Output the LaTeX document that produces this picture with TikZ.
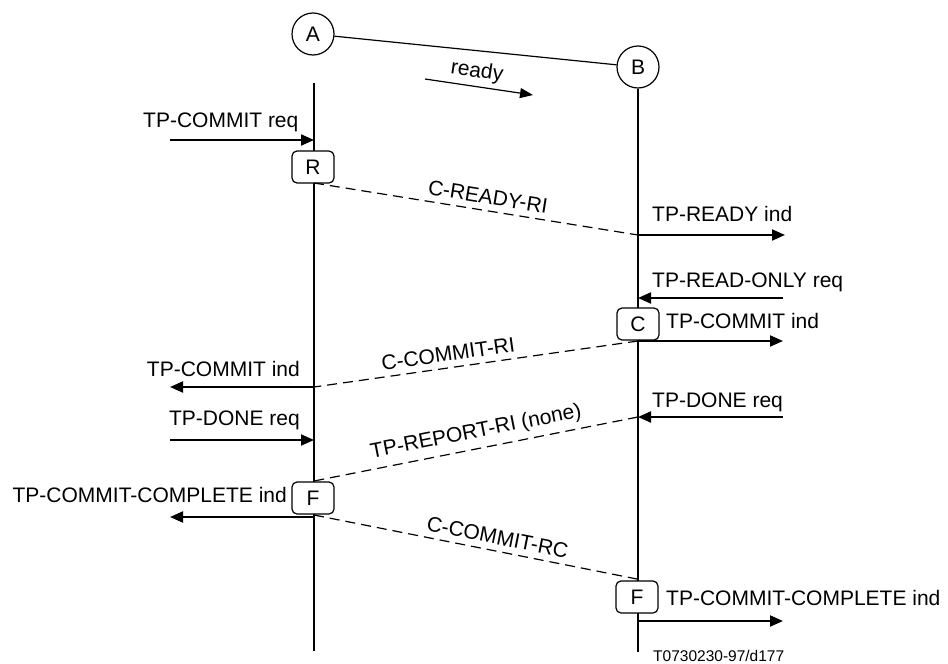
\documentclass[tikz,border=0pt]{standalone}
\usepackage{fontspec}
\setmainfont{Liberation Sans}
\usetikzlibrary{arrows.meta}
\begin{document}
\begin{tikzpicture}[x=1pt,y=-1pt,
  every node/.style={font=\fontsize{21}{25}\selectfont, inner sep=0pt},
  circ/.style={draw, line width=1.2pt, circle, minimum size=42pt},
  statebox/.style={draw, line width=1.2pt, rounded corners=5pt, minimum width=42pt, minimum height=32pt},
  life/.style={line width=2pt},
  prim/.style={line width=2pt, -{Triangle[length=13pt,width=11pt]}},
  pdu/.style={line width=1.2pt, dash pattern=on 10pt off 6pt},
  lbl/.style={font=\fontsize{21}{25}\selectfont}
]
\useasboundingbox (0,0) rectangle (948,664);

% entities
\node[circ] (A) at (313,34) {A};
\node[circ] (B) at (638,67) {B};
\draw[line width=1.2pt] (A) -- (B);

% ready arrow
\coordinate (r1) at (425,79);
\coordinate (r2) at (533,95);
\draw[line width=1.2pt, -{Triangle[length=13pt,width=10pt]}] (r1) -- (r2);
\node[rotate=-8.5] (readylbl) at (477,72) {ready};

% lifelines
\coordinate (Atop) at (314,83);
\coordinate (Abot) at (314,651);
\coordinate (Bbot) at (638,652);
\draw[life] (Atop) -- (Abot);
\draw[life] (B.south) -- (Bbot);

% state boxes
\node[statebox, fill=white] (R) at (313,167) {R};
\node[statebox, fill=white] (C) at (638,324) {C};
\node[statebox, fill=white] (F1) at (313,498) {F};
\node[statebox, fill=white] (F2) at (637,597) {F};

% event points
\coordinate (a1) at (170,140);  \coordinate (A1) at (314,140);
\coordinate (A2) at (314,183);  \coordinate (B2) at (638,235);
\coordinate (b2) at (785,235);
\coordinate (b3) at (783,298);  \coordinate (B3) at (638,298);
\coordinate (B4) at (638,341);  \coordinate (b4) at (783,341);
\coordinate (A4) at (314,387);  \coordinate (a4) at (170,387);
\coordinate (a5) at (170,440);  \coordinate (A5) at (314,440);
\coordinate (b6) at (783,417);  \coordinate (B6) at (638,417);
\coordinate (A6) at (314,481);
\coordinate (A7) at (314,517);  \coordinate (a7) at (170,517);
\coordinate (A8) at (314,515);  \coordinate (B8) at (637,579);
\coordinate (B9) at (638,621);  \coordinate (b9) at (783,621);

% primitives
\draw[prim] (a1) -- (A1);
\draw[prim] (B2) -- (b2);
\draw[prim] (b3) -- (B3);
\draw[prim] (B4) -- (b4);
\draw[prim] (A4) -- (a4);
\draw[prim] (a5) -- (A5);
\draw[prim] (b6) -- (B6);
\draw[prim] (A7) -- (a7);
\draw[prim] (B9) -- (b9);

% PDUs
\draw[pdu] (A2) -- node[pos=0.53, above=6pt, sloped] (l1) {C-READY-RI} (B2);
\draw[pdu] (B4) -- node[pos=0.58, above=6pt, sloped] (l2) {C-COMMIT-RI} (A4);
\draw[pdu] (B6) -- node[pos=0.49, above=6pt, sloped] (l3) {TP-REPORT-RI (none)} (A6);
\draw[pdu] (A8) -- node[pos=0.56, above=6pt, sloped] (l4) {C-COMMIT-RC} (B8);

% primitive labels
\node[anchor=base west] (t1) at (143,127) {TP-COMMIT req};
\node[anchor=base west] (t2) at (652,221) {TP-READY ind};
\node[anchor=base west] (t3) at (652,287) {TP-READ-ONLY req};
\node[anchor=base west] (t4) at (666,328) {TP-COMMIT ind};
\node[anchor=base east] (t5) at (300,376) {TP-COMMIT ind};
\node[anchor=base east] (t6) at (300,425) {TP-DONE req};
\node[anchor=base west] (t7) at (652,407) {TP-DONE req};
\node[anchor=base east] (t8) at (287,502) {TP-COMMIT-COMPLETE ind};
\node[anchor=base west] (t9) at (666,605) {TP-COMMIT-COMPLETE ind};
\node[anchor=base west, font=\fontsize{15.5}{18}\selectfont] (ref) at (653,661) {T0730230-97/d177};
\end{tikzpicture}
\end{document}
